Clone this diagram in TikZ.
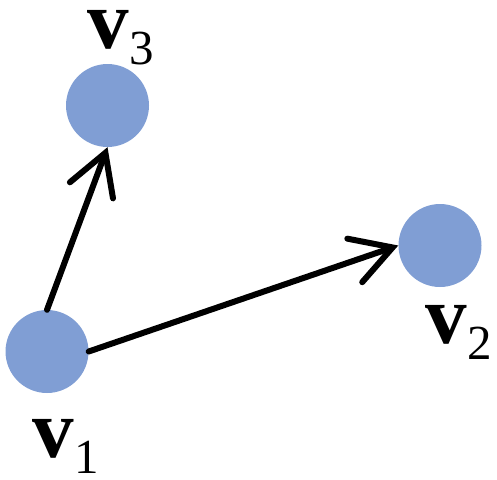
\documentclass[tikz,border=0pt]{standalone}
\usepackage{fontspec}
\setmainfont{Liberation Serif}
\usetikzlibrary{positioning,arrows.meta}
\definecolor{vecfill}{RGB}{128,158,212}
\definecolor{inkc}{RGB}{0,0,0}
\newcommand{\vlab}[1]{{\bfseries v}\kern1pt\raisebox{-16pt}{\fontsize{49}{56}\selectfont #1}}

\begin{document}
\begin{tikzpicture}[
  x=1pt, y=-1pt,
  pt/.style={circle, fill=vecfill, draw=none, minimum size=83pt, inner sep=0pt},
  lbl/.style={anchor=base west, inner sep=0pt, text=inkc, font=\fontsize{83}{96}\selectfont},
  vec/.style={draw=inkc, line width=6pt, line cap=round,
    -{Straight Barb[length=40pt, width=46pt, line cap=round]}},
]
\useasboundingbox (0,0) rectangle (497,479);

% ---- points ----
\node[pt] (v1) at (47,351.5) {};
\node[pt] (v2) at (440,245.5) {};
\node[pt] (v3) at (107.5,105.5) {};

% ---- labels ----
\node[lbl] (l1) at (32,457) {\vlab{1}};
\node[lbl] (l2) at (425,343) {\vlab{2}};
\node[lbl] (l3) at (87,48) {\vlab{3}};

% ---- vectors ----
\draw[vec] (v1.north) -- (v3.south);
\draw[vec] (v1.east) -- (v2.west);

\end{tikzpicture}
\end{document}
